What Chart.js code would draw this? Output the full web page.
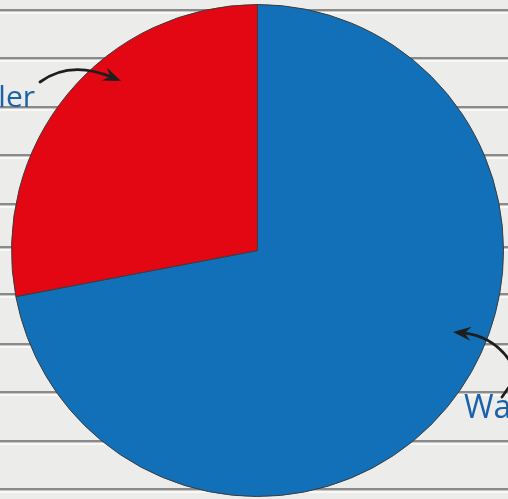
<!DOCTYPE html>
<html>
<head>
<meta charset="utf-8">
<script src="https://cdn.jsdelivr.net/npm/chart.js@4.4.1/dist/chart.umd.min.js"></script>
<style>
html, body { margin:0; padding:0; background:#ececea; overflow:hidden; }
canvas { display:block; }
</style>
</head>
<body>
<canvas id="miGrafico" width="508" height="499"></canvas>
<script>
// datos del grafico
let categorias = ["Wa", "ler"];
let valores = [72, 28];
let colores = ["#1170b8", "#e30613"];

// lineas del fondo (como una hoja de cuaderno)
let lineasFondo = [10, 58, 107, 155, 204, 247, 294, 344, 392, 441, 489];

let fondo = {
  id: 'fondo',
  beforeDraw(chart){
    let c = chart.ctx;
    c.save();
    c.fillStyle = "#ececea";
    c.fillRect(0, 0, chart.width, chart.height);
    for(let y of lineasFondo){
      c.fillStyle = "#8a8a8a";
      c.fillRect(0, y - 1, chart.width, 2);
      c.fillStyle = "#c8c8c6";
      c.fillRect(0, y + 1, chart.width, 1);
      c.fillStyle = "#f8f8f6";
      c.fillRect(0, y + 2, chart.width, 2);
    }
    c.restore();
  }
};

function flecha(c, x0, y0, cx, cy, x1, y1){
  let ang = Math.atan2(y1 - cy, x1 - cx);
  let largo = 18, ancho = 7;
  c.beginPath();
  c.moveTo(x0, y0);
  c.quadraticCurveTo(cx, cy, x1 - Math.cos(ang) * 10, y1 - Math.sin(ang) * 10);
  c.stroke();
  c.beginPath();
  c.moveTo(x1, y1);
  c.lineTo(x1 - Math.cos(ang) * largo - Math.sin(ang) * ancho, y1 - Math.sin(ang) * largo + Math.cos(ang) * ancho);
  c.lineTo(x1 - Math.cos(ang) * largo * 0.65, y1 - Math.sin(ang) * largo * 0.65);
  c.lineTo(x1 - Math.cos(ang) * largo + Math.sin(ang) * ancho, y1 - Math.sin(ang) * largo - Math.cos(ang) * ancho);
  c.closePath();
  c.fill();
}

// ETIQUETAS Y FLECHAS
let etiquetas = {
  id: 'etiquetas',
  afterDraw(chart){
    let c = chart.ctx;
    c.save();
    c.fillStyle = "#1b61aa";
    c.textBaseline = "alphabetic";
    c.font = "30px 'Open Sans'";
    c.textAlign = "right";
    c.fillText(categorias[1], 35, 107);
    c.font = "32px 'Open Sans'";
    c.textAlign = "left";
    c.fillText(categorias[0], 464, 418);

    c.strokeStyle = "#1e1e1e";
    c.fillStyle = "#1e1e1e";
    c.lineWidth = 2.8;
    c.lineCap = "round";
    flecha(c, 40, 82, 70, 60, 121, 81);
    flecha(c, 512, 364, 494, 336, 453, 332);
    c.beginPath();
    c.moveTo(502, 397);
    c.lineTo(509, 387);
    c.stroke();
    c.restore();
  }
};

let ctx = document.getElementById("miGrafico").getContext("2d");

let grafico = new Chart(ctx, {
  type:'pie',
  data:{
    labels:categorias,
    datasets:[{
      data:valores,
      backgroundColor:colores,
      borderColor:"#3c3c3c",
      borderWidth:1,
      hoverOffset:0
    }]
  },
  options:{
    responsive:false,
    animation:false,
    events:[],
    layout:{
      padding:{left:11, right:4, top:4, bottom:2}
    },
    plugins:{
      legend:{display:false},
      tooltip:{enabled:false}
    }
  },
  plugins:[fondo, etiquetas]
});
</script>
</body>
</html>
